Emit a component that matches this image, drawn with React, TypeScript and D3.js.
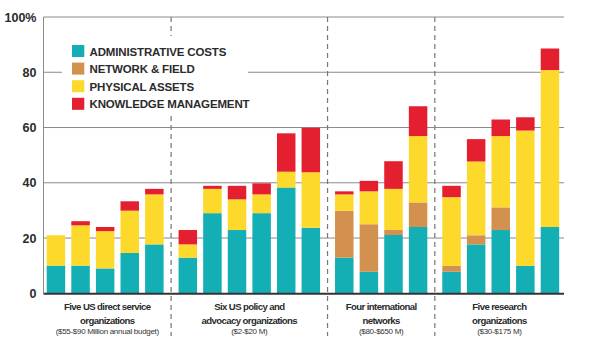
import React from "react";
import * as d3 from "d3";

const seriesKeys = ["admin", "network", "physical", "knowledge"];
const seriesLabels = ["ADMINISTRATIVE COSTS", "NETWORK & FIELD", "PHYSICAL ASSETS", "KNOWLEDGE MANAGEMENT"];
const seriesColors = ["#13afb4", "#d3914f", "#fdd92b", "#e41f2f"];

const groupNames = [
  ["Five US direct service", "organizations"],
  ["Six US policy and", "advocacy organizations"],
  ["Four international", "networks"],
  ["Five research", "organizations"],
];
const groupSubs = ["($55-$90 Million annual budget)", "($2-$20 M)", "($80-$650 M)", "($30-$175 M)"];
const groupSizes = [5, 6, 4, 5];

const adminValues = [10, 10, 9, 14.6, 17.7, 12.9, 29, 22.9, 29, 38.3, 23.7, 12.9, 7.8, 21.1, 24, 7.8, 17.7, 22.9, 9.9, 24];
const networkValues = [0, 0, 0, 0, 0, 0, 0, 0, 0, 0, 0, 17, 17.2, 1.8, 8.9, 2.1, 3.3, 8.2, 0, 0];
const physicalValues = [11, 14.6, 13.5, 15.3, 18.1, 4.8, 8.8, 11.1, 6.8, 5.7, 20.1, 5.9, 11.9, 14.9, 24, 24.9, 26.7, 25.8, 49, 56.8];
const knowledgeValues = [0, 1.5, 1.5, 3.4, 2, 5.2, 1.1, 4.9, 4, 13.9, 16.1, 1.1, 3.8, 10, 10.8, 4.1, 8.1, 6, 4.8, 7.8];

const yTicks = [0, 20, 40, 60, 80, 100];

export default function App() {
  const W = 596, H = 346;
  const left = 43.5, right = 564, top = 17, bottom = 293.3;
  const gapFrac = 0.36;
  const barW = 18.5;

  const rows = adminValues.map((_, i) => ({
    admin: adminValues[i],
    network: networkValues[i],
    physical: physicalValues[i],
    knowledge: knowledgeValues[i],
  }));
  const groupOf: number[] = [];
  groupSizes.forEach((n, g) => { for (let k = 0; k < n; k++) groupOf.push(g); });
  const slot = rows.map((_, i) => i + groupOf[i] * gapFrac);
  const n = rows.length;
  const x = d3.scaleLinear().domain([0, n - 1 + 3 * gapFrac]).range([46.7, 540.7]);
  const y = d3.scaleLinear().domain([0, 100]).range([bottom, top]);
  const stacked = d3.stack<any>().keys(seriesKeys)(rows);

  const seps: number[] = [];
  let acc = 0;
  for (let g = 0; g < groupSizes.length - 1; g++) {
    acc += groupSizes[g];
    const lastEnd = x(slot[acc - 1]) + barW;
    const nextStart = x(slot[acc]);
    seps.push((lastEnd + nextStart) / 2);
  }
  const bounds = [left, ...seps, right];

  const font = "'Liberation Sans', Arial, sans-serif";

  return (
    <svg width={W} height={H} style={{ position: "absolute", left: 0, top: 0, background: "#fff" }}>
      {yTicks.filter((t) => t > 0).map((t) => (
        <line key={t} x1={left} x2={right} y1={y(t)} y2={y(t)} stroke="#8a8a8a" strokeWidth={1} />
      ))}
      <line x1={left} x2={left} y1={y(100)} y2={bottom} stroke="#8a8a8a" strokeWidth={1} />
      {seps.map((s, i) => (
        <line key={i} x1={s} x2={s} y1={top} y2={336} stroke="#777" strokeWidth={1.2} strokeDasharray="5,4" />
      ))}
      <rect x={62} y={36} width={186} height={80} fill="#fff" />
      {seriesLabels.map((lab, i) => (
        <g key={lab} transform={`translate(72,${45 + i * 17.6})`}>
          <rect width={12.3} height={12} fill={seriesColors[i]} />
          <text x={17.5} y={10.5} fontFamily={font} fontWeight="bold" fontSize={11.5} fill="#2b2b2b" letterSpacing={-0.15}>{lab}</text>
        </g>
      ))}
      {stacked.map((layer, si) => (
        <g key={si} fill={seriesColors[si]}>
          {layer.map((d, i) => (
            d[1] - d[0] > 0 ? (
              <rect key={i} x={x(slot[i])} width={barW} y={y(d[1])} height={y(d[0]) - y(d[1])} />
            ) : null
          ))}
        </g>
      ))}
      <line x1={left} x2={right} y1={bottom + 0.5} y2={bottom + 0.5} stroke="#333" strokeWidth={2} />
      {yTicks.map((t) => (
        <text key={t} x={36.5} y={y(t) + 4.5} textAnchor="end" fontFamily={font} fontWeight="bold" fontSize={12.5} fill="#2b2b2b">
          {t === 100 ? "100%" : t}
        </text>
      ))}
      {groupNames.map((lines, g) => {
        const cx = (bounds[g] + bounds[g + 1]) / 2;
        return (
          <g key={g}>
            {lines.map((ln, k) => (
              <text key={k} x={cx} y={310 + k * 13.5} textAnchor="middle" fontFamily={font} fontWeight="bold" fontSize={9.6} fill="#2b2b2b" letterSpacing={-0.6}>{ln}</text>
            ))}
            <text x={cx} y={334} textAnchor="middle" fontFamily={font} fontSize={8} fill="#333" letterSpacing={-0.3}>{groupSubs[g]}</text>
          </g>
        );
      })}
    </svg>
  );
}
